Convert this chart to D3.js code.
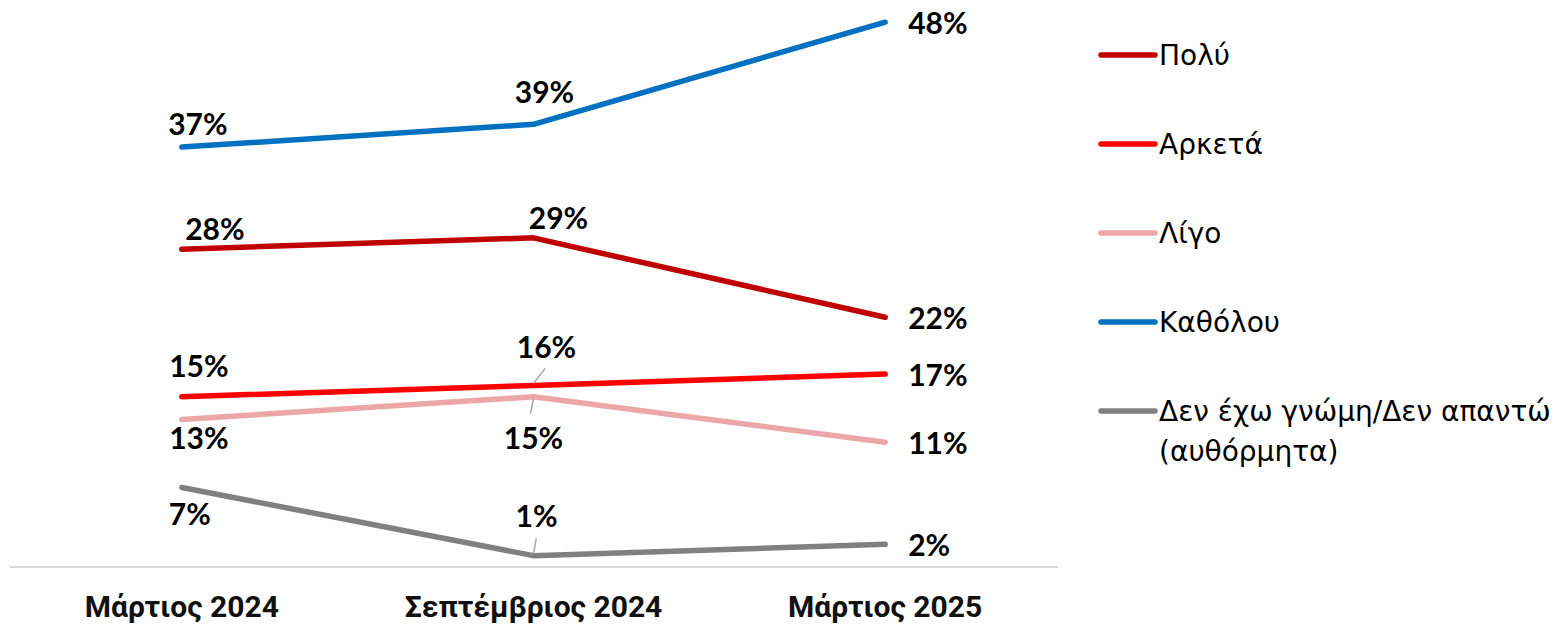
<!DOCTYPE html>
<html>
<head>
<meta charset="utf-8">
<script src="https://cdn.jsdelivr.net/npm/d3@7"></script>
<style>
  body { margin: 0; background: #fff; }
  svg { display: block; }
</style>
</head>
<body>
<div id="chart"></div>
<script>
const categories = ['Μάρτιος 2024', 'Σεπτέμβριος 2024', 'Μάρτιος 2025'];
const seriesNames = ['Πολύ', 'Αρκετά', 'Λίγο', 'Καθόλου', 'Δεν έχω γνώμη/Δεν απαντώ (αυθόρμητα)'];
const polu = [28, 29, 22];
const arketa = [15, 16, 17];
const ligo = [13, 15, 11];
const katholou = [37, 39, 48];
const gnomi = [7, 1, 2];

// label offset from its point [dx, dy], 'r' = right of point, leader = small line to label
const labelPlace = [
    [[33, -20], [25, -20], 'r'],
    [[17, -31], [13, -38, 'lead'], 'r'],
    [[17, 19], [0, 41, 'lead'], 'r'],
    [[16, -23], [11, -32], 'r'],
    [[8, 27], [3, -39, 'lead'], 'r']
];

const colors = ['#c00000', '#ff0000', '#eba6a8', '#0070c0', '#808080'];

const width = 1567;
const height = 625;

const series = [polu, arketa, ligo, katholou, gnomi].map(function (v, i) {
    return { name: seriesNames[i], values: v, color: colors[i], place: labelPlace[i] };
});

const svg = d3.select('#chart')
  .append('svg')
    .attr('width', width)
    .attr('height', height);

const x = d3.scalePoint()
    .domain(categories)
    .range([6, 1061])
    .padding(0.5);

const y = d3.scaleLinear()
    .domain([0, 50])
    .range([567, -0.5]);

const cx = function (i) { return x(categories[i]); };

// baseline
svg.append('line')
    .attr('x1', 10)
    .attr('x2', 1058)
    .attr('y1', y(0))
    .attr('y2', y(0))
    .attr('stroke', '#d9d9d9')
    .attr('stroke-width', 2);

// category labels
svg.append('g')
  .selectAll('text')
  .data(categories)
  .enter()
  .append('text')
    .attr('x', function (d) { return x(d); })
    .attr('y', 617)
    .attr('text-anchor', 'middle')
    .attr('font-family', '"Liberation Sans Narrow", Roboto, sans-serif')
    .attr('font-weight', 'bold')
    .attr('font-size', 30)
    .attr('fill', '#111')
    .text(function (d) { return d; });

const line = d3.line()
    .x(function (d, i) { return cx(i); })
    .y(function (d) { return y(d); });

const lineGroup = svg.append('g');
series.forEach(function (s) {
    lineGroup.append('path')
        .datum(s.values)
        .attr('d', line)
        .attr('fill', 'none')
        .attr('stroke', s.color)
        .attr('stroke-width', 5.5)
        .attr('stroke-linecap', 'round')
        .attr('stroke-linejoin', 'round');
});

// value labels
const labelGroup = svg.append('g')
    .attr('font-family', 'Lato, "Open Sans", sans-serif')
    .attr('font-weight', 'bold')
    .attr('font-size', 30)
    .attr('fill', '#000');

series.forEach(function (s) {
    s.values.forEach(function (v, i) {
        const px = cx(i);
        const py = y(v);
        const place = s.place[i];
        let tx, ty, anchor;
        if (place === 'r') {
            tx = px + 23;
            ty = py + 1;
            anchor = 'start';
        } else {
            tx = px + place[0];
            ty = py + place[1];
            anchor = 'middle';
            if (place[2] === 'lead') {
                const dir = place[1] < 0 ? -1 : 1;
                labelGroup.append('line')
                    .attr('x1', px)
                    .attr('y1', py + dir * 2)
                    .attr('x2', px + place[0] * 0.9 - (dir > 0 ? 3 : 0))
                    .attr('y2', py + dir * 17)
                    .attr('stroke', '#a6a6a6')
                    .attr('stroke-width', 1.5);
            }
        }
        labelGroup.append('text')
            .attr('x', tx)
            .attr('y', ty)
            .attr('dy', '0.36em')
            .attr('text-anchor', anchor)
            .text(v + '%');
    });
});

// legend
const legend = svg.append('g')
    .attr('font-family', '"DejaVu Sans", sans-serif')
    .attr('font-size', 28)
    .attr('fill', '#000');

series.forEach(function (s, i) {
    const ly = 55 + i * 89;
    legend.append('line')
        .attr('x1', 1101)
        .attr('x2', 1155)
        .attr('y1', ly)
        .attr('y2', ly)
        .attr('stroke', s.color)
        .attr('stroke-width', 5.5)
        .attr('stroke-linecap', 'round');
    const t = legend.append('text')
        .attr('x', 1159)
        .attr('y', ly)
        .attr('dy', '0.36em');
    const parts = s.name.split(' (');
    t.append('tspan').text(parts[0]);
    if (parts.length > 1) {
        t.append('tspan')
            .attr('x', 1159)
            .attr('dy', 40)
            .text('(' + parts[1]);
    }
});
</script>
</body>
</html>
